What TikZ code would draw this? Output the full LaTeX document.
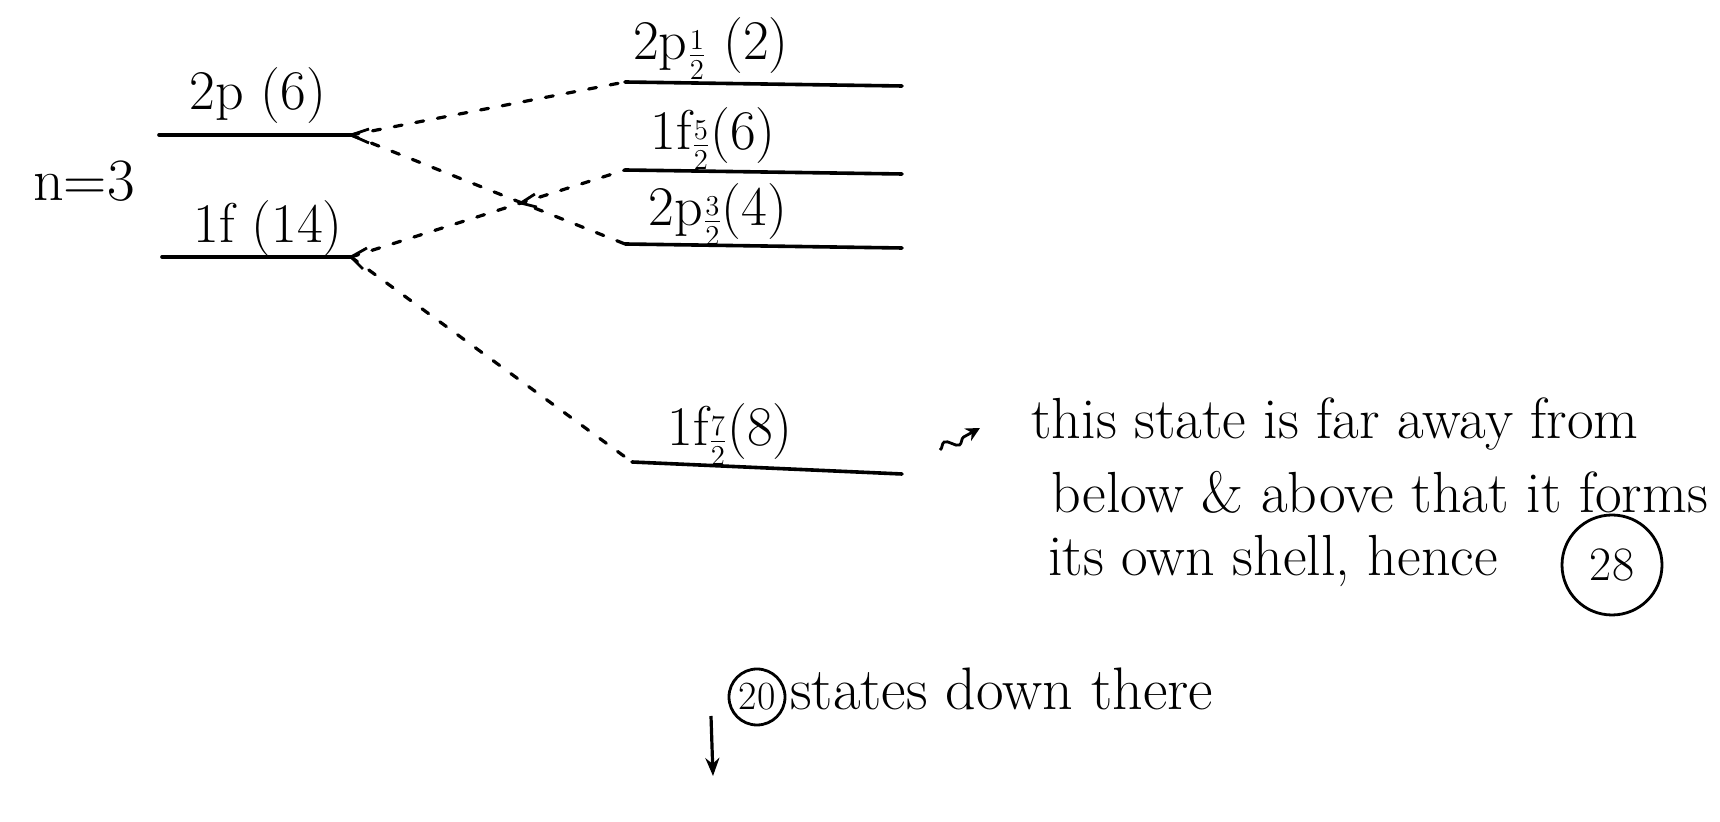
\documentclass[tikz,border=0pt]{standalone}
\usetikzlibrary{decorations.pathmorphing,arrows.meta,calc}
\newcommand{\lowfrac}[2]{\raisebox{-0.1em}{${\scriptstyle\frac{#1}{#2}}$}}
\begin{document}
\begin{tikzpicture}[x=0.5pt,y=-0.5pt,
  level/.style={line width=1.8pt,line cap=round},
  conn/.style={line width=1.6pt,dash pattern=on 4pt off 7pt,line cap=round},
  lab/.style={font=\fontsize{28}{32}\selectfont,anchor=base,inner sep=0pt},
  note/.style={font=\fontsize{29}{34}\selectfont,anchor=base west,inner sep=0pt},
  circ/.style={draw,circle,line width=1.4pt,inner sep=1pt}]
\useasboundingbox (0,0) rectangle (1720,822);
% left levels
\coordinate (a1) at (159,135); \coordinate (a2) at (351,135);
\coordinate (b1) at (162,257); \coordinate (b2) at (351,257);
\draw[level] (a1) -- (a2);
\draw[level] (b1) -- (b2);
\node[lab] (l2p) at (258,110) {2p (6)};
\node[lab] (l1f) at (268,243) {1f (14)};
\node[font=\fontsize{30}{34}\selectfont] (n3) at (84,181) {n=3};
% right levels
\coordinate (c1) at (625,82); \coordinate (c2) at (902,86);
\coordinate (d1) at (625,170); \coordinate (d2) at (902,174);
\coordinate (e1) at (625,244); \coordinate (e2) at (902,248);
\coordinate (f1) at (632,462); \coordinate (f2) at (902,474);
\draw[level] (c1) -- (c2);
\draw[level] (d1) -- (d2);
\draw[level] (e1) -- (e2);
\draw[level] (f1) -- (f2);
\node[lab] (r1) at (711,60) {2p\lowfrac{1}{2} (2)};
\node[lab] (r2) at (713,150) {1f\lowfrac{5}{2}(6)};
\node[lab] (r3) at (718,226) {2p\lowfrac{3}{2}(4)};
\node[lab] (r4) at (730,446) {1f\lowfrac{7}{2}(8)};
% connectors
\draw[conn] (a2) -- (c1);
\draw[conn] (a2) -- (e1);
\draw[conn] (b2) -- (d1);
\draw[conn] (b2) -- (f1);
\draw[line width=1.4pt] ($(a2)+(18,-6)$) -- (a2) -- ($(a2)+(18,8)$);
\draw[line width=1.4pt] ($(b2)+(16,-9)$) -- (b2) -- ($(b2)+(12,12)$);
\coordinate (m1) at ($(d1)!0.38!(b2)$);
\draw[line width=1.4pt] ($(m1)+(14,-9)$) -- (m1) -- ($(m1)+(16,4)$);
% note
\coordinate (s1) at (940,450);
\coordinate (s2) at (980,428);
\draw[line width=1.4pt,-{Stealth[length=7pt,width=7pt]},decorate,decoration={snake,amplitude=2.5pt,segment length=12pt,post length=5pt}] (s1) -- (s2);
\node[note] (t1) at (1031,439) {this state is far away from};
\node[note] (t2) at (1051,513) {below \& above that it forms};
\node[note] (t3) at (1048,576) {its own shell, hence};
\node[circ,minimum size=50pt,font=\fontsize{24}{26}\selectfont] (c28) at (1612,565) {28};
% bottom
\coordinate (g1) at (711,716);
\coordinate (g2) at (713,776);
\draw[line width=1.6pt,-{Stealth[length=9pt,width=7pt]}] (g1) -- (g2);
\node[circ,minimum size=28pt,font=\fontsize{20}{22}\selectfont] (c20) at (757,697) {20};
\node[note,font=\fontsize{30}{34}\selectfont] (t4) at (790,710) {states down there};
\end{tikzpicture}
\end{document}
